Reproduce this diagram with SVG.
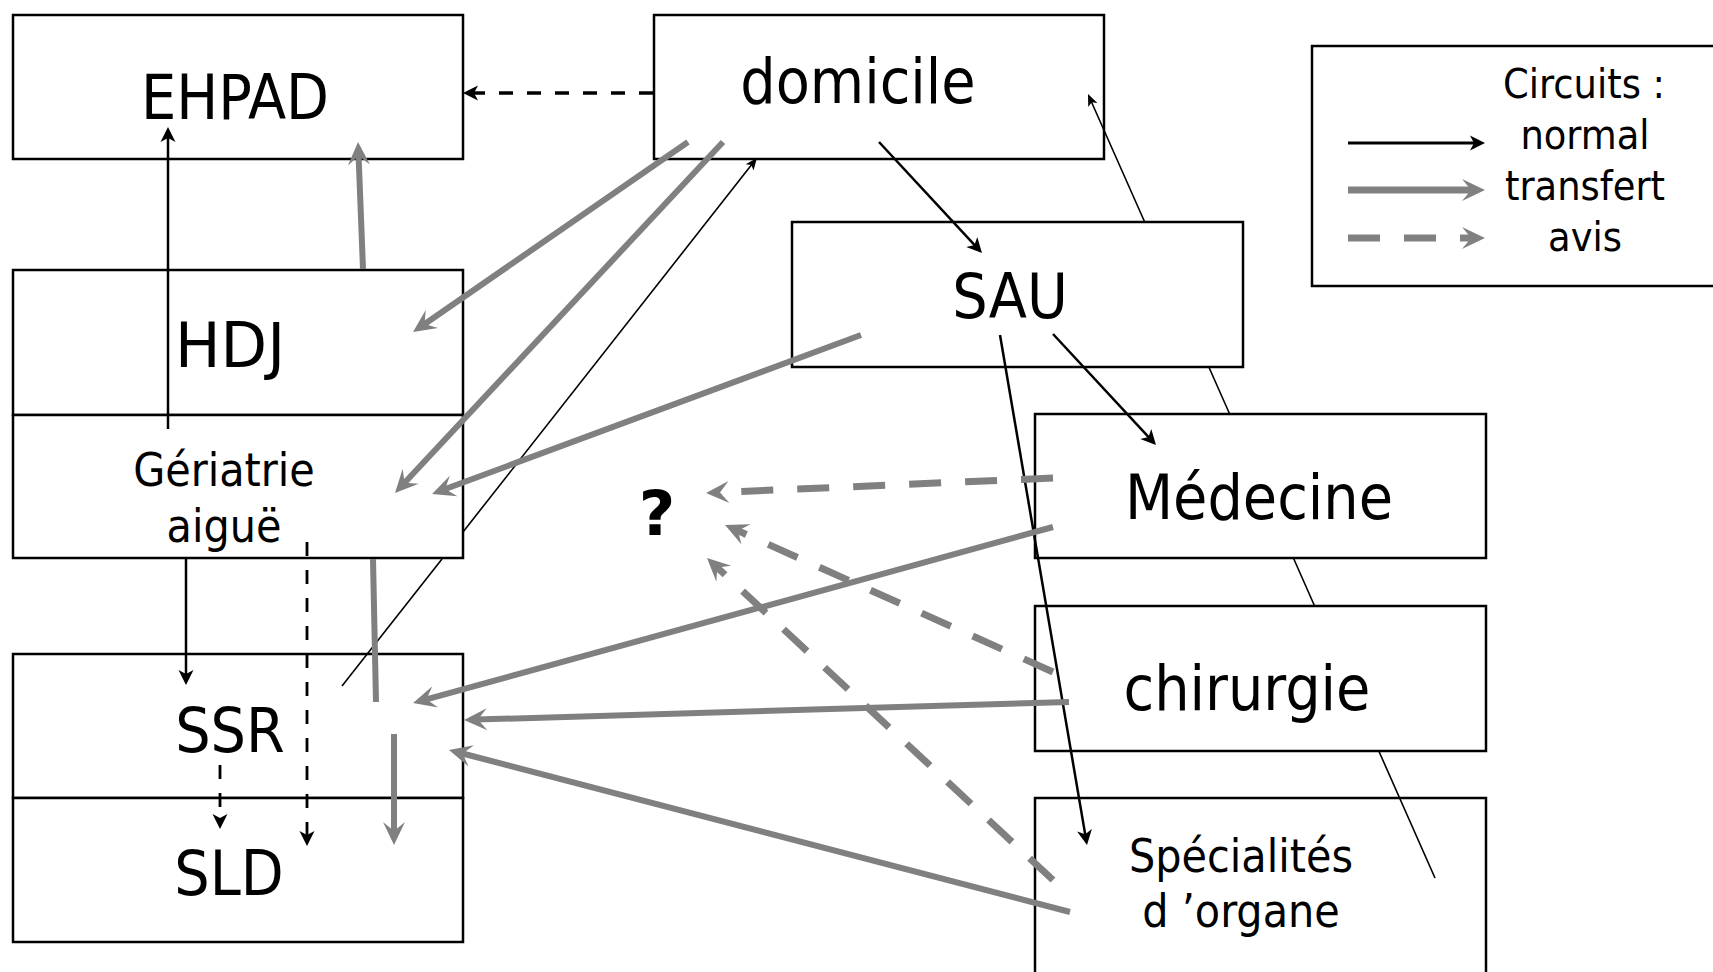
<svg xmlns="http://www.w3.org/2000/svg" width="1713" height="972" viewBox="0 0 1713 972">
<style>
.box{fill:#fff;stroke:#000;stroke-width:2.5}
.lbl{font-family:"DejaVu Sans Condensed","DejaVu Sans",sans-serif;font-stretch:condensed;text-anchor:middle;fill:#000}
.big{font-size:62px}
.mid{font-size:46px}
.leg{font-size:41px}
.q{font-family:"DejaVu Sans","Liberation Sans",sans-serif;font-weight:bold;font-size:63px;text-anchor:middle}
.blk{fill:none;stroke:#000;stroke-width:2.5;marker-end:url(#ab)}
.thin{fill:none;stroke:#000;stroke-width:1.6}
.thinA{marker-end:url(#at)}
.dsh{fill:none;stroke:#000;stroke-width:3.6;stroke-dasharray:14 14;marker-end:url(#ab)}
.gry{fill:none;stroke:#808080;stroke-width:6;marker-end:url(#ag)}
.gryN{fill:none;stroke:#808080;stroke-width:6}
.gdsh{fill:none;stroke:#808080;stroke-width:7;stroke-dasharray:32 24;marker-end:url(#ag)}
</style>
<defs>
<marker id="ab" markerUnits="userSpaceOnUse" orient="auto" refX="-6" refY="0" markerWidth="20" markerHeight="20" overflow="visible">
<path d="M0,0 L-15,-7.5 L-11,0 L-15,7.5 Z" fill="#000"/>
</marker>
<marker id="at" markerUnits="userSpaceOnUse" orient="auto" refX="-4" refY="0" markerWidth="16" markerHeight="16" overflow="visible">
<path d="M0,0 L-12,-5 L-9,0 L-12,5 Z" fill="#000"/>
</marker>
<marker id="ag" markerUnits="userSpaceOnUse" orient="auto" refX="-12" refY="0" markerWidth="30" markerHeight="30" overflow="visible">
<path d="M0,0 L-23,-11 L-14,0 L-23,11 Z" fill="#808080"/>
</marker>
</defs>
<rect width="1713" height="972" fill="#fff"/>

<g id="EHPAD"><rect class="box" x="13" y="15" width="450" height="144"/><text class="lbl big" x="235" y="119">EHPAD</text></g>
<g id="domicile"><rect class="box" x="654" y="15" width="450" height="144"/><text class="lbl big" x="858" y="103">domicile</text></g>
<g id="HDJ"><rect class="box" x="13" y="270" width="450" height="145"/><text class="lbl big" x="230" y="367" textLength="110" lengthAdjust="spacingAndGlyphs">HDJ</text></g>
<g id="geriatrie"><rect class="box" x="13" y="415" width="450" height="143"/><text class="lbl mid" x="224" y="486">Gériatrie</text><text class="lbl mid" x="224" y="542">aiguë</text></g>
<g id="SSR"><rect class="box" x="13" y="654" width="450" height="144"/><text class="lbl big" x="230" y="752">SSR</text></g>
<g id="SLD"><rect class="box" x="13" y="798" width="450" height="144"/><text class="lbl big" x="229" y="895">SLD</text></g>
<g id="SAU"><rect class="box" x="792" y="222" width="451" height="145"/><text class="lbl big" x="1010" y="318">SAU</text></g>
<g id="medecine"><rect class="box" x="1035" y="414" width="451" height="144"/><text class="lbl big" x="1259" y="519">Médecine</text></g>
<g id="chirurgie"><rect class="box" x="1035" y="606" width="451" height="145"/><text class="lbl big" x="1247" y="710">chirurgie</text></g>
<g id="specialites"><rect class="box" x="1035" y="798" width="451" height="200"/><text class="lbl mid" x="1241" y="872">Spécialités</text><text class="lbl mid" x="1241" y="927">d ’organe</text></g>
<g id="question"><text class="q" x="657" y="535">?</text></g>

<g id="connectors">
<path class="blk" d="M168,429 L168,133"/>
<path class="blk" d="M879,142 L977.9,248.6"/>
<path class="blk" d="M1053,334 L1151.9,440.6"/>
<path class="blk" d="M1000,335 L1086,839.1"/>
<path class="blk" d="M186,559 L186,679"/>
<path class="thin" d="M342,686 L442,559"/>
<path class="thin thinA" d="M463,532 L754.5,161.1"/>
<path class="thin thinA" d="M1435,878 L1378.8,751 M1314.6,606 L1293.4,558 M1230.1,415 L1208.4,366 M1144.7,222 L1089.6,97.7"/>
<path class="dsh" d="M653,93 L469,93"/>
<path class="dsh" style="stroke-width:2.8" d="M307,542 L307,840"/>
<path class="dsh" style="stroke-width:2.8" d="M220,765 L220,823"/>
<path class="gry" d="M363,269 L358.5,154"/>
<path class="gry" d="M688,142 L422.9,325.2"/>
<path class="gry" d="M723,142 L403.2,484.2"/>
<path class="gry" d="M861,335 L443.3,489.8"/>
<path class="gry" d="M1053,527 L424.6,699.8"/>
<path class="gry" d="M1069,702 L476,719.6"/>
<path class="gry" d="M1070,912 L460.6,753"/>
<path class="gryN" d="M373,559 L376,702"/>
<path class="gry" d="M394,734 L394,833"/>
<path class="gdsh" d="M1053,478 L718,492.5"/>
<path class="gdsh" d="M1053,672 L736,529.9"/>
<path class="gdsh" d="M1053,880 L715.8,566.2"/>
</g>

<g id="legend">
<rect class="box" x="1312" y="46" width="420" height="240"/>
<text class="lbl leg" x="1584" y="98">Circuits :</text>
<text class="lbl leg" x="1585" y="149">normal</text>
<text class="lbl leg" x="1585" y="200">transfert</text>
<text class="lbl leg" x="1585" y="251">avis</text>
<path class="blk" style="stroke-width:3" d="M1348,143 L1479,143"/>
<path class="gry" style="stroke-width:7" d="M1348,190 L1473,190"/>
<path class="gdsh" d="M1348,238 L1473,238"/>
</g>
</svg>
